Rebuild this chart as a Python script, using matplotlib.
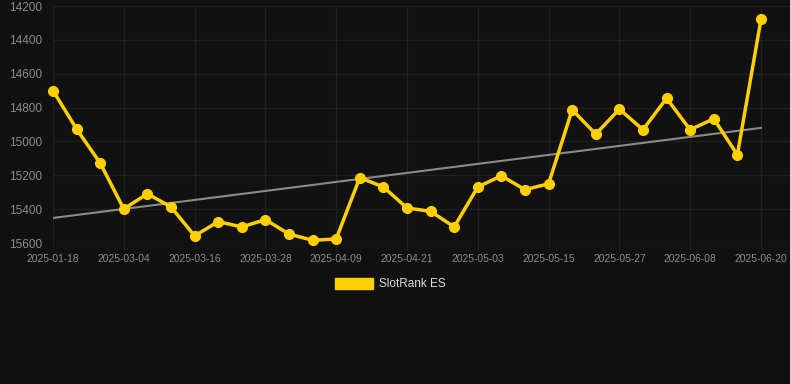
import matplotlib
matplotlib.use('Agg')
import matplotlib.pyplot as plt
import matplotlib.patches as mpatches
import numpy as np

plt.rcParams['font.family'] = ['Liberation Sans', 'DejaVu Sans']

# one point every 4 days from 03-04 on, first three are earlier checks
dates = ['2025-01-18', '2025-02-24', '2025-02-28',
	'2025-03-04', '2025-03-08', '2025-03-12', '2025-03-16', '2025-03-20',
	'2025-03-24', '2025-03-28', '2025-04-01', '2025-04-05', '2025-04-09',
	'2025-04-13', '2025-04-17', '2025-04-21', '2025-04-25', '2025-04-29',
	'2025-05-03', '2025-05-07', '2025-05-11', '2025-05-15', '2025-05-19',
	'2025-05-23', '2025-05-27', '2025-05-31', '2025-06-04', '2025-06-08',
	'2025-06-12', '2025-06-16', '2025-06-20']
ranks = [14700, 14927, 15128, 15399, 15309, 15387, 15558, 15474, 15505, 15462,
	15547, 15584, 15576, 15214, 15269, 15393, 15413, 15505, 15269, 15203,
	15285, 15250, 14813, 14957, 14809, 14931, 14745, 14931, 14866, 15079,
	14279]
yticks = [14200, 14400, 14600, 14800, 15000, 15200, 15400, 15600]
series_name = 'SlotRank ES'

BG = '#111111'
YELLOW = '#FFCF00'
GRID = '#1f1f1f'

fig = plt.figure(figsize=(7.9, 3.84), dpi=100, facecolor=BG)
ax = fig.add_axes([53/790, 1 - 243/384, 1 - 53/790, 237/384])
ax.set_facecolor(BG)

x = np.arange(len(ranks))

# trend line (least squares)
k, b = np.polyfit(x, ranks, 1)
ax.plot(x, k * x + b, color='#8a8a8a', lw=1.5, zorder=2)

ax.plot(x, ranks, color=YELLOW, lw=2.5, marker='o', markersize=7,
	markerfacecolor=YELLOW, markeredgecolor=YELLOW, zorder=3, clip_on=False)

ax.set_ylim(15600, 14200)
ax.set_xlim(0, len(ranks) - 1 + 1.23)
ax.set_yticks(yticks)
ax.set_yticklabels([str(v) for v in yticks])
ax.set_xticks(x[::3])
ax.set_xticklabels(dates[::3])

ax.grid(True, color=GRID, lw=0.9)
ax.set_axisbelow(True)
for s in ax.spines.values():
	s.set_visible(False)
ax.tick_params(axis='y', length=0, pad=8, labelsize=8.5, labelcolor='#8c8c8c')
ax.tick_params(axis='x', length=5, color=GRID, pad=3, labelsize=7.4, labelcolor='#8c8c8c')

# legend below the plot
handle = mpatches.Patch(color=YELLOW, label=series_name)
fig.legend(handles=[handle], loc='center', bbox_to_anchor=(0.494, 1 - 284/384),
	frameon=False, handlelength=3.3, handleheight=1.1, handletextpad=0.5,
	fontsize=8.5, labelcolor='#dddddd')

fig.savefig('out.png', dpi=100, facecolor=BG)
